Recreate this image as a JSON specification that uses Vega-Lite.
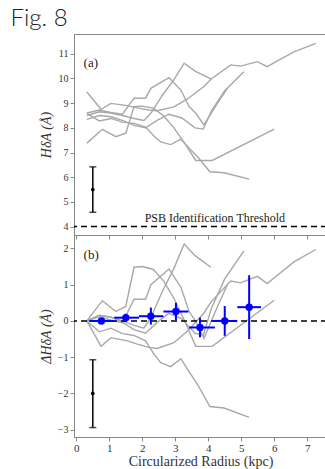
{
  "$schema": "https://vega.github.io/schema/vega-lite/v6.json",
  "padding": {"left": 10, "top": 6, "right": 0, "bottom": 0},
  "background": "white",
  "bounds": "flush",
  "title": {"text": "Fig. 8", "anchor": "start", "frame": "bounds", "font": "Lato", "fontWeight": 300, "fontSize": 24, "color": "#222", "baseline": "alphabetic", "offset": -16, "dx": -28},
  "config": {
    "view": {"stroke": "#888", "strokeWidth": 1},
    "axis": {"labelFont": "Liberation Serif", "titleFont": "Liberation Serif", "labelFontSize": 10, "titleFontSize": 14, "titleFontWeight": "normal", "labelColor": "#333", "titleColor": "#333", "domainColor": "#888", "tickColor": "#888", "grid": false, "tickSize": 4, "labelPadding": 2, "labelOverlap": false, "labelBound": false, "labelFlush": false},
    "text": {"font": "Liberation Serif", "color": "#222"}
  },
  "datasets": {
    "la": [
      {"id": "A", "x": 0.32, "y": 9.45}, {"id": "A", "x": 0.75, "y": 8.75}, {"id": "A", "x": 1.05, "y": 8.99}, {"id": "A", "x": 1.55, "y": 8.9}, {"id": "A", "x": 1.85, "y": 8.81}, {"id": "A", "x": 2.2, "y": 8.72}, {"id": "A", "x": 2.45, "y": 8.69}, {"id": "A", "x": 2.96, "y": 8.85}, {"id": "A", "x": 3.37, "y": 9.17}, {"id": "A", "x": 3.6, "y": 9.4}, {"id": "A", "x": 3.87, "y": 9.67}, {"id": "A", "x": 4.08, "y": 9.97}, {"id": "A", "x": 4.68, "y": 10.55}, {"id": "A", "x": 4.98, "y": 10.5}, {"id": "A", "x": 5.49, "y": 10.68}, {"id": "A", "x": 5.79, "y": 10.48}, {"id": "A", "x": 6.15, "y": 10.75}, {"id": "A", "x": 6.6, "y": 11.08}, {"id": "A", "x": 7.26, "y": 11.42},
      {"id": "F", "x": 0.32, "y": 8.58}, {"id": "F", "x": 0.7, "y": 8.28}, {"id": "F", "x": 1.05, "y": 8.38}, {"id": "F", "x": 1.4, "y": 8.23}, {"id": "F", "x": 1.75, "y": 8.18}, {"id": "F", "x": 2.1, "y": 8.03}, {"id": "F", "x": 2.36, "y": 7.66}, {"id": "F", "x": 2.56, "y": 7.43}, {"id": "F", "x": 2.86, "y": 7.32}, {"id": "F", "x": 3.17, "y": 7.54}, {"id": "F", "x": 3.37, "y": 7.25}, {"id": "F", "x": 3.7, "y": 6.79}, {"id": "F", "x": 4.05, "y": 6.22}, {"id": "F", "x": 4.48, "y": 6.18}, {"id": "F", "x": 5.24, "y": 5.92},
      {"id": "E", "x": 0.32, "y": 7.38}, {"id": "E", "x": 0.79, "y": 7.94}, {"id": "E", "x": 1.2, "y": 7.64}, {"id": "E", "x": 1.5, "y": 7.78}, {"id": "E", "x": 1.75, "y": 8.86}, {"id": "E", "x": 2.0, "y": 8.88}, {"id": "E", "x": 2.34, "y": 8.8}, {"id": "E", "x": 2.65, "y": 8.48}, {"id": "E", "x": 2.96, "y": 8.0}, {"id": "E", "x": 3.3, "y": 7.35}, {"id": "E", "x": 3.62, "y": 6.68}, {"id": "E", "x": 4.12, "y": 6.68}, {"id": "E", "x": 6.0, "y": 7.95},
      {"id": "C", "x": 0.32, "y": 8.5}, {"id": "C", "x": 0.7, "y": 8.65}, {"id": "C", "x": 1.05, "y": 8.6}, {"id": "C", "x": 1.4, "y": 8.5}, {"id": "C", "x": 1.75, "y": 8.38}, {"id": "C", "x": 2.05, "y": 8.3}, {"id": "C", "x": 2.26, "y": 8.59}, {"id": "C", "x": 2.6, "y": 9.3}, {"id": "C", "x": 2.96, "y": 9.95}, {"id": "C", "x": 3.27, "y": 10.62}, {"id": "C", "x": 3.6, "y": 10.3}, {"id": "C", "x": 4.08, "y": 9.98},
      {"id": "G", "x": 0.32, "y": 8.6}, {"id": "G", "x": 0.7, "y": 8.72}, {"id": "G", "x": 1.05, "y": 8.62}, {"id": "G", "x": 1.4, "y": 8.55}, {"id": "G", "x": 1.75, "y": 9.2}, {"id": "G", "x": 2.1, "y": 9.2}, {"id": "G", "x": 2.26, "y": 9.6}, {"id": "G", "x": 2.81, "y": 10.03}, {"id": "G", "x": 3.17, "y": 9.53}, {"id": "G", "x": 3.42, "y": 8.86}, {"id": "G", "x": 3.62, "y": 8.59}, {"id": "G", "x": 3.87, "y": 8.12}, {"id": "G", "x": 4.28, "y": 9.0}, {"id": "G", "x": 4.58, "y": 9.6},
      {"id": "B", "x": 0.32, "y": 8.34}, {"id": "B", "x": 0.7, "y": 8.5}, {"id": "B", "x": 1.05, "y": 8.45}, {"id": "B", "x": 1.4, "y": 8.3}, {"id": "B", "x": 1.75, "y": 8.1}, {"id": "B", "x": 2.1, "y": 8.0}, {"id": "B", "x": 2.45, "y": 8.3}, {"id": "B", "x": 2.8, "y": 8.55}, {"id": "B", "x": 3.2, "y": 8.4}, {"id": "B", "x": 3.6, "y": 8.0}, {"id": "B", "x": 3.85, "y": 7.95}, {"id": "B", "x": 4.1, "y": 8.7}, {"id": "B", "x": 4.5, "y": 9.5}, {"id": "B", "x": 5.08, "y": 10.27}
    ],
    "lb": [
      {"id": "A", "x": 0.32, "y": 0}, {"id": "A", "x": 0.75, "y": -0.7}, {"id": "A", "x": 1.05, "y": -0.46}, {"id": "A", "x": 1.55, "y": -0.55}, {"id": "A", "x": 1.85, "y": -0.64}, {"id": "A", "x": 2.2, "y": -0.73}, {"id": "A", "x": 2.45, "y": -0.76}, {"id": "A", "x": 2.96, "y": -0.6}, {"id": "A", "x": 3.37, "y": -0.28}, {"id": "A", "x": 3.6, "y": -0.05}, {"id": "A", "x": 3.87, "y": 0.22}, {"id": "A", "x": 4.08, "y": 0.52}, {"id": "A", "x": 4.68, "y": 1.1}, {"id": "A", "x": 4.98, "y": 1.05}, {"id": "A", "x": 5.49, "y": 1.23}, {"id": "A", "x": 5.79, "y": 1.03}, {"id": "A", "x": 6.15, "y": 1.3}, {"id": "A", "x": 6.6, "y": 1.63}, {"id": "A", "x": 7.26, "y": 1.97},
      {"id": "F", "x": 0.32, "y": 0}, {"id": "F", "x": 0.7, "y": -0.3}, {"id": "F", "x": 1.05, "y": -0.2}, {"id": "F", "x": 1.4, "y": -0.35}, {"id": "F", "x": 1.75, "y": -0.4}, {"id": "F", "x": 2.1, "y": -0.55}, {"id": "F", "x": 2.36, "y": -0.92}, {"id": "F", "x": 2.56, "y": -1.15}, {"id": "F", "x": 2.86, "y": -1.26}, {"id": "F", "x": 3.17, "y": -1.04}, {"id": "F", "x": 3.37, "y": -1.33}, {"id": "F", "x": 3.7, "y": -1.79}, {"id": "F", "x": 4.05, "y": -2.36}, {"id": "F", "x": 4.48, "y": -2.4}, {"id": "F", "x": 5.24, "y": -2.66},
      {"id": "E", "x": 0.32, "y": 0}, {"id": "E", "x": 0.79, "y": 0.56}, {"id": "E", "x": 1.2, "y": 0.26}, {"id": "E", "x": 1.5, "y": 0.4}, {"id": "E", "x": 1.75, "y": 1.48}, {"id": "E", "x": 2.0, "y": 1.5}, {"id": "E", "x": 2.34, "y": 1.42}, {"id": "E", "x": 2.65, "y": 1.1}, {"id": "E", "x": 2.96, "y": 0.62}, {"id": "E", "x": 3.3, "y": -0.03}, {"id": "E", "x": 3.62, "y": -0.7}, {"id": "E", "x": 4.12, "y": -0.7}, {"id": "E", "x": 6.0, "y": 0.57},
      {"id": "C", "x": 0.32, "y": 0}, {"id": "C", "x": 0.7, "y": 0.15}, {"id": "C", "x": 1.05, "y": 0.1}, {"id": "C", "x": 1.4, "y": 0}, {"id": "C", "x": 1.75, "y": -0.12}, {"id": "C", "x": 2.05, "y": -0.2}, {"id": "C", "x": 2.26, "y": 0.09}, {"id": "C", "x": 2.6, "y": 0.8}, {"id": "C", "x": 2.96, "y": 1.45}, {"id": "C", "x": 3.27, "y": 2.12}, {"id": "C", "x": 3.6, "y": 1.8}, {"id": "C", "x": 4.08, "y": 1.48},
      {"id": "G", "x": 0.32, "y": 0}, {"id": "G", "x": 0.7, "y": 0.12}, {"id": "G", "x": 1.05, "y": 0.02}, {"id": "G", "x": 1.4, "y": -0.05}, {"id": "G", "x": 1.75, "y": 0.6}, {"id": "G", "x": 2.1, "y": 0.6}, {"id": "G", "x": 2.26, "y": 1.0}, {"id": "G", "x": 2.81, "y": 1.43}, {"id": "G", "x": 3.17, "y": 0.93}, {"id": "G", "x": 3.42, "y": 0.26}, {"id": "G", "x": 3.62, "y": -0.01}, {"id": "G", "x": 3.87, "y": -0.48}, {"id": "G", "x": 4.28, "y": 0.4}, {"id": "G", "x": 4.58, "y": 1.0},
      {"id": "B", "x": 0.32, "y": 0}, {"id": "B", "x": 0.7, "y": 0.16}, {"id": "B", "x": 1.05, "y": 0.11}, {"id": "B", "x": 1.4, "y": -0.04}, {"id": "B", "x": 1.75, "y": -0.24}, {"id": "B", "x": 2.1, "y": -0.34}, {"id": "B", "x": 2.45, "y": -0.04}, {"id": "B", "x": 2.8, "y": 0.21}, {"id": "B", "x": 3.2, "y": 0.06}, {"id": "B", "x": 3.6, "y": -0.34}, {"id": "B", "x": 3.85, "y": -0.39}, {"id": "B", "x": 4.1, "y": 0.36}, {"id": "B", "x": 4.5, "y": 1.16}, {"id": "B", "x": 5.08, "y": 1.93}
    ],
    "blue": [
      {"x": 0.76, "y": 0.0, "xlo": 0.39, "xhi": 1.15, "ylo": -0.05, "yhi": 0.05},
      {"x": 1.5, "y": 0.09, "xlo": 1.15, "xhi": 1.9, "ylo": -0.02, "yhi": 0.2},
      {"x": 2.26, "y": 0.13, "xlo": 1.9, "xhi": 2.64, "ylo": -0.1, "yhi": 0.37},
      {"x": 3.02, "y": 0.26, "xlo": 2.64, "xhi": 3.4, "ylo": 0.02, "yhi": 0.5},
      {"x": 3.75, "y": -0.18, "xlo": 3.42, "xhi": 4.2, "ylo": -0.45, "yhi": 0.09},
      {"x": 4.5, "y": 0.0, "xlo": 4.13, "xhi": 4.88, "ylo": -0.41, "yhi": 0.41},
      {"x": 5.24, "y": 0.38, "xlo": 4.88, "xhi": 5.6, "ylo": -0.5, "yhi": 1.26}
    ],
    "erra": [{"x": 0.5, "y": 5.5, "lo": 4.58, "hi": 6.42}],
    "errb": [{"x": 0.5, "y": -2.0, "lo": -2.94, "hi": -1.07}]
  },
  "spacing": 0,
  "resolve": {"scale": {"x": "independent", "y": "independent"}},
  "vconcat": [
    {
      "width": 253,
      "height": 201,
      "layer": [
        {
          "data": {"name": "la"},
          "mark": {"type": "line", "color": "#a8a8a8", "strokeWidth": 1.4},
          "encoding": {
            "x": {"field": "x", "type": "quantitative", "scale": {"domain": [-0.07, 7.6], "nice": false, "zero": false}, "axis": {"values": [0, 1, 2, 3, 4, 5, 6, 7], "labels": false, "title": null, "domain": false}},
            "y": {"field": "y", "type": "quantitative", "scale": {"domain": [3.66, 11.8], "nice": false, "zero": false}, "axis": {"values": [4, 5, 6, 7, 8, 9, 10, 11], "title": "HδA (Å)", "titleFontStyle": "italic", "titleX": -28, "titleBaseline": "middle"}},
            "detail": {"field": "id"}
          }
        },
        {
          "data": {"values": [{"y": 4}]},
          "mark": {"type": "rule", "color": "black", "strokeWidth": 1.5, "strokeDash": [6, 4]},
          "encoding": {"y": {"field": "y", "type": "quantitative", "scale": {"domain": [3.66, 11.8], "nice": false, "zero": false}, "axis": {"values": [4, 5, 6, 7, 8, 9, 10, 11], "title": "HδA (Å)", "titleFontStyle": "italic", "titleX": -28, "titleBaseline": "middle"}}}
        },
        {
          "data": {"name": "erra"},
          "layer": [
            {"mark": {"type": "rule", "color": "black", "strokeWidth": 1.5},
             "encoding": {"x": {"field": "x", "type": "quantitative", "scale": {"domain": [-0.07, 7.6], "nice": false, "zero": false}, "axis": {"values": [0, 1, 2, 3, 4, 5, 6, 7], "labels": false, "title": null, "domain": false}}, "y": {"field": "lo", "type": "quantitative", "scale": {"domain": [3.66, 11.8], "nice": false, "zero": false}, "axis": {"values": [4, 5, 6, 7, 8, 9, 10, 11], "title": "HδA (Å)", "titleFontStyle": "italic", "titleX": -28, "titleBaseline": "middle"}}, "y2": {"field": "hi"}}},
            {"mark": {"type": "tick", "orient": "horizontal", "color": "black", "size": 7, "thickness": 1.5},
             "encoding": {"x": {"field": "x", "type": "quantitative", "scale": {"domain": [-0.07, 7.6], "nice": false, "zero": false}, "axis": {"values": [0, 1, 2, 3, 4, 5, 6, 7], "labels": false, "title": null, "domain": false}}, "y": {"field": "lo", "type": "quantitative", "scale": {"domain": [3.66, 11.8], "nice": false, "zero": false}, "axis": {"values": [4, 5, 6, 7, 8, 9, 10, 11], "title": "HδA (Å)", "titleFontStyle": "italic", "titleX": -28, "titleBaseline": "middle"}}}},
            {"mark": {"type": "tick", "orient": "horizontal", "color": "black", "size": 7, "thickness": 1.5},
             "encoding": {"x": {"field": "x", "type": "quantitative", "scale": {"domain": [-0.07, 7.6], "nice": false, "zero": false}, "axis": {"values": [0, 1, 2, 3, 4, 5, 6, 7], "labels": false, "title": null, "domain": false}}, "y": {"field": "hi", "type": "quantitative", "scale": {"domain": [3.66, 11.8], "nice": false, "zero": false}, "axis": {"values": [4, 5, 6, 7, 8, 9, 10, 11], "title": "HδA (Å)", "titleFontStyle": "italic", "titleX": -28, "titleBaseline": "middle"}}}},
            {"mark": {"type": "point", "filled": true, "color": "black", "size": 14, "opacity": 1},
             "encoding": {"x": {"field": "x", "type": "quantitative", "scale": {"domain": [-0.07, 7.6], "nice": false, "zero": false}, "axis": {"values": [0, 1, 2, 3, 4, 5, 6, 7], "labels": false, "title": null, "domain": false}}, "y": {"field": "y", "type": "quantitative", "scale": {"domain": [3.66, 11.8], "nice": false, "zero": false}, "axis": {"values": [4, 5, 6, 7, 8, 9, 10, 11], "title": "HδA (Å)", "titleFontStyle": "italic", "titleX": -28, "titleBaseline": "middle"}}}}
          ]
        },
        {
          "data": {"values": [{"x": 0.22, "y": 10.63, "t": "(a)"}]},
          "mark": {"type": "text", "align": "left", "baseline": "middle", "fontSize": 13},
          "encoding": {"x": {"field": "x", "type": "quantitative", "scale": {"domain": [-0.07, 7.6], "nice": false, "zero": false}, "axis": {"values": [0, 1, 2, 3, 4, 5, 6, 7], "labels": false, "title": null, "domain": false}}, "y": {"field": "y", "type": "quantitative", "scale": {"domain": [3.66, 11.8], "nice": false, "zero": false}, "axis": {"values": [4, 5, 6, 7, 8, 9, 10, 11], "title": "HδA (Å)", "titleFontStyle": "italic", "titleX": -28, "titleBaseline": "middle"}}, "text": {"field": "t"}}
        },
        {
          "data": {"values": [{"x": 4.2, "y": 4.35, "t": "PSB Identification Threshold"}]},
          "mark": {"type": "text", "align": "center", "baseline": "middle", "fontSize": 12},
          "encoding": {"x": {"field": "x", "type": "quantitative", "scale": {"domain": [-0.07, 7.6], "nice": false, "zero": false}, "axis": {"values": [0, 1, 2, 3, 4, 5, 6, 7], "labels": false, "title": null, "domain": false}}, "y": {"field": "y", "type": "quantitative", "scale": {"domain": [3.66, 11.8], "nice": false, "zero": false}, "axis": {"values": [4, 5, 6, 7, 8, 9, 10, 11], "title": "HδA (Å)", "titleFontStyle": "italic", "titleX": -28, "titleBaseline": "middle"}}, "text": {"field": "t"}}
        }
      ]
    },
    {
      "width": 253,
      "height": 202,
      "layer": [
        {
          "data": {"name": "lb"},
          "mark": {"type": "line", "color": "#a8a8a8", "strokeWidth": 1.4},
          "encoding": {
            "x": {"field": "x", "type": "quantitative", "scale": {"domain": [-0.07, 7.6], "nice": false, "zero": false}, "axis": {"values": [0, 1, 2, 3, 4, 5, 6, 7], "title": "Circularized Radius (kpc)", "titlePadding": 1, "labelPadding": 1, "labelFontSize": 11}},
            "y": {"field": "y", "type": "quantitative", "scale": {"domain": [-3.2, 2.37], "nice": false, "zero": false}, "axis": {"values": [-3, -2, -1, 0, 1, 2], "title": "ΔHδA (Å)", "titleFontStyle": "italic", "titleX": -28, "titleBaseline": "middle"}},
            "detail": {"field": "id"}
          }
        },
        {
          "data": {"values": [{"y": 0}]},
          "mark": {"type": "rule", "color": "black", "strokeWidth": 1.5, "strokeDash": [6, 4]},
          "encoding": {"y": {"field": "y", "type": "quantitative", "scale": {"domain": [-3.2, 2.37], "nice": false, "zero": false}, "axis": {"values": [-3, -2, -1, 0, 1, 2], "title": "ΔHδA (Å)", "titleFontStyle": "italic", "titleX": -28, "titleBaseline": "middle"}}}
        },
        {
          "data": {"name": "errb"},
          "layer": [
            {"mark": {"type": "rule", "color": "black", "strokeWidth": 1.5},
             "encoding": {"x": {"field": "x", "type": "quantitative", "scale": {"domain": [-0.07, 7.6], "nice": false, "zero": false}, "axis": {"values": [0, 1, 2, 3, 4, 5, 6, 7], "title": "Circularized Radius (kpc)", "titlePadding": 1, "labelPadding": 1, "labelFontSize": 11}}, "y": {"field": "lo", "type": "quantitative", "scale": {"domain": [-3.2, 2.37], "nice": false, "zero": false}, "axis": {"values": [-3, -2, -1, 0, 1, 2], "title": "ΔHδA (Å)", "titleFontStyle": "italic", "titleX": -28, "titleBaseline": "middle"}}, "y2": {"field": "hi"}}},
            {"mark": {"type": "tick", "orient": "horizontal", "color": "black", "size": 7, "thickness": 1.5},
             "encoding": {"x": {"field": "x", "type": "quantitative", "scale": {"domain": [-0.07, 7.6], "nice": false, "zero": false}, "axis": {"values": [0, 1, 2, 3, 4, 5, 6, 7], "title": "Circularized Radius (kpc)", "titlePadding": 1, "labelPadding": 1, "labelFontSize": 11}}, "y": {"field": "lo", "type": "quantitative", "scale": {"domain": [-3.2, 2.37], "nice": false, "zero": false}, "axis": {"values": [-3, -2, -1, 0, 1, 2], "title": "ΔHδA (Å)", "titleFontStyle": "italic", "titleX": -28, "titleBaseline": "middle"}}}},
            {"mark": {"type": "tick", "orient": "horizontal", "color": "black", "size": 7, "thickness": 1.5},
             "encoding": {"x": {"field": "x", "type": "quantitative", "scale": {"domain": [-0.07, 7.6], "nice": false, "zero": false}, "axis": {"values": [0, 1, 2, 3, 4, 5, 6, 7], "title": "Circularized Radius (kpc)", "titlePadding": 1, "labelPadding": 1, "labelFontSize": 11}}, "y": {"field": "hi", "type": "quantitative", "scale": {"domain": [-3.2, 2.37], "nice": false, "zero": false}, "axis": {"values": [-3, -2, -1, 0, 1, 2], "title": "ΔHδA (Å)", "titleFontStyle": "italic", "titleX": -28, "titleBaseline": "middle"}}}},
            {"mark": {"type": "point", "filled": true, "color": "black", "size": 14, "opacity": 1},
             "encoding": {"x": {"field": "x", "type": "quantitative", "scale": {"domain": [-0.07, 7.6], "nice": false, "zero": false}, "axis": {"values": [0, 1, 2, 3, 4, 5, 6, 7], "title": "Circularized Radius (kpc)", "titlePadding": 1, "labelPadding": 1, "labelFontSize": 11}}, "y": {"field": "y", "type": "quantitative", "scale": {"domain": [-3.2, 2.37], "nice": false, "zero": false}, "axis": {"values": [-3, -2, -1, 0, 1, 2], "title": "ΔHδA (Å)", "titleFontStyle": "italic", "titleX": -28, "titleBaseline": "middle"}}}}
          ]
        },
        {
          "data": {"name": "blue"},
          "layer": [
            {"mark": {"type": "rule", "color": "#0000ff", "strokeWidth": 2},
             "encoding": {"x": {"field": "xlo", "type": "quantitative", "scale": {"domain": [-0.07, 7.6], "nice": false, "zero": false}, "axis": {"values": [0, 1, 2, 3, 4, 5, 6, 7], "title": "Circularized Radius (kpc)", "titlePadding": 1, "labelPadding": 1, "labelFontSize": 11}}, "x2": {"field": "xhi"}, "y": {"field": "y", "type": "quantitative", "scale": {"domain": [-3.2, 2.37], "nice": false, "zero": false}, "axis": {"values": [-3, -2, -1, 0, 1, 2], "title": "ΔHδA (Å)", "titleFontStyle": "italic", "titleX": -28, "titleBaseline": "middle"}}}},
            {"mark": {"type": "rule", "color": "#0000ff", "strokeWidth": 2},
             "encoding": {"x": {"field": "x", "type": "quantitative", "scale": {"domain": [-0.07, 7.6], "nice": false, "zero": false}, "axis": {"values": [0, 1, 2, 3, 4, 5, 6, 7], "title": "Circularized Radius (kpc)", "titlePadding": 1, "labelPadding": 1, "labelFontSize": 11}}, "y": {"field": "ylo", "type": "quantitative", "scale": {"domain": [-3.2, 2.37], "nice": false, "zero": false}, "axis": {"values": [-3, -2, -1, 0, 1, 2], "title": "ΔHδA (Å)", "titleFontStyle": "italic", "titleX": -28, "titleBaseline": "middle"}}, "y2": {"field": "yhi"}}},
            {"mark": {"type": "point", "filled": true, "color": "#0000ff", "size": 55, "opacity": 1},
             "encoding": {"x": {"field": "x", "type": "quantitative", "scale": {"domain": [-0.07, 7.6], "nice": false, "zero": false}, "axis": {"values": [0, 1, 2, 3, 4, 5, 6, 7], "title": "Circularized Radius (kpc)", "titlePadding": 1, "labelPadding": 1, "labelFontSize": 11}}, "y": {"field": "y", "type": "quantitative", "scale": {"domain": [-3.2, 2.37], "nice": false, "zero": false}, "axis": {"values": [-3, -2, -1, 0, 1, 2], "title": "ΔHδA (Å)", "titleFontStyle": "italic", "titleX": -28, "titleBaseline": "middle"}}}}
          ]
        },
        {
          "data": {"values": [{"x": 0.22, "y": 1.82, "t": "(b)"}]},
          "mark": {"type": "text", "align": "left", "baseline": "middle", "fontSize": 13},
          "encoding": {"x": {"field": "x", "type": "quantitative", "scale": {"domain": [-0.07, 7.6], "nice": false, "zero": false}, "axis": {"values": [0, 1, 2, 3, 4, 5, 6, 7], "title": "Circularized Radius (kpc)", "titlePadding": 1, "labelPadding": 1, "labelFontSize": 11}}, "y": {"field": "y", "type": "quantitative", "scale": {"domain": [-3.2, 2.37], "nice": false, "zero": false}, "axis": {"values": [-3, -2, -1, 0, 1, 2], "title": "ΔHδA (Å)", "titleFontStyle": "italic", "titleX": -28, "titleBaseline": "middle"}}, "text": {"field": "t"}}
        }
      ]
    }
  ]
}
